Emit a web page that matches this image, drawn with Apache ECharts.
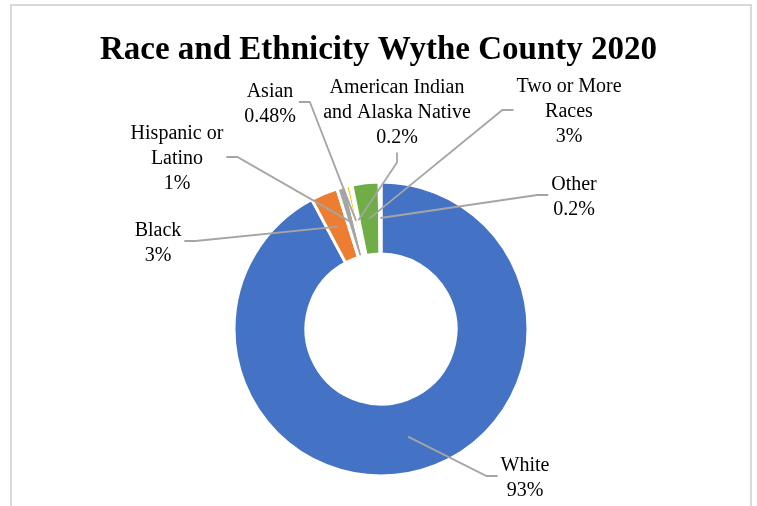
<!DOCTYPE html>
<html>
<head>
<meta charset="utf-8">
<script src="https://cdn.jsdelivr.net/npm/echarts@6/dist/echarts.min.js"></script>
<style>
  html, body { margin: 0; padding: 0; background: #fff; }
  #frame { position: absolute; left: 10px; top: 4px; width: 742px; height: 520px;
           border: 2px solid #d9d9d9; border-bottom: none; box-sizing: border-box; }
  #chart { position: absolute; left: 0; top: 0; width: 757px; height: 506px; }
</style>
</head>
<body>
<div id="frame"></div>
<div id="chart"></div>
<script>
// Population shares by group, Wythe County 2020
const categories = ['White', 'Black', 'Hispanic or\nLatino', 'Asian',
  'American Indian\nand Alaska Native', 'Two or More\nRaces', 'Other'];
const shares = [93, 3, 1, 0.48, 0.2, 3, 0.2];
const valueLabels = ['93%', '3%', '1%', '0.48%', '0.2%', '3%', '0.2%'];

const colors = ['#4472C4', '#ED7D31', '#A5A5A5', '#FFC000', '#5B9BD5', '#70AD47', '#264478'];

// Callout placement: label centre and the side the leader line attaches to
const labelSpots = [
  { at: [525, 478], side: 'l' },   // White
  { at: [158, 243], side: 'r' },   // Black
  { at: [177, 159], side: 'r' },   // Hispanic or Latino
  { at: [270, 104], side: 'r' },   // Asian
  { at: [397, 113], side: 'b' },   // American Indian and Alaska Native
  { at: [569, 112], side: 'l' },   // Two or More Races
  { at: [574, 197], side: 'l' }    // Other
];

const CENTER = [381, 329];
const R_IN = 75, R_OUT = 147;
const R_MID = (R_IN + R_OUT) / 2;

// Mid-angle of every slice (clockwise from 12 o'clock), derived from the shares
const total = shares.reduce((a, b) => a + b, 0);
const midAngles = [];
shares.reduce((cum, v) => { midAngles.push((cum + v / 2) / total * 2 * Math.PI); return cum + v; }, 0);

const pieData = categories.map((c, i) => ({ name: c, value: shares[i], itemStyle: { color: colors[i] } }));

const chart = echarts.init(document.getElementById('chart'));
chart.setOption({
  animation: false,
  title: {
    text: 'Race and Ethnicity Wythe County 2020',
    left: 'center',
    top: 29,
    textStyle: { fontFamily: 'Liberation Serif', fontWeight: 'bold', fontSize: 33, color: '#000' }
  },
  series: [
    {
      // the doughnut itself
      type: 'pie',
      center: CENTER,
      radius: [R_IN, R_OUT],
      startAngle: 90,
      clockwise: true,
      z: 2,
      itemStyle: { borderColor: '#fff', borderWidth: 3 },
      label: { show: false },
      labelLine: { show: false },
      data: pieData
    },
    {
      // transparent twin carrying the callouts, so leader lines sit on top of the ring
      type: 'pie',
      center: CENTER,
      radius: [R_IN, R_OUT],
      startAngle: 90,
      clockwise: true,
      z: 5,
      silent: true,
      avoidLabelOverlap: false,
      itemStyle: { color: 'rgba(0,0,0,0)', borderWidth: 0 },
      label: {
        show: true,
        position: 'outside',
        fontFamily: 'Liberation Serif',
        fontSize: 20,
        lineHeight: 25,
        color: '#000',
        align: 'center',
        formatter: p => p.name + '\n' + valueLabels[p.dataIndex]
      },
      labelLine: {
        show: true,
        lineStyle: { color: '#A5A5A5', width: 1.8 },
        length: 10,
        length2: 10
      },
      labelLayout: params => {
        const i = params.dataIndex;
        const spot = labelSpots[i];
        const [x, y] = spot.at;
        const w = params.labelRect.width, h = params.labelRect.height;
        const a = midAngles[i];
        const p0 = [CENTER[0] + R_MID * Math.sin(a), CENTER[1] - R_MID * Math.cos(a)];
        let pts;
        if (spot.side === 'b') {
          const end = [x, y + h / 2 + 2];
          pts = [p0, [x, end[1] + 10], end];
        } else {
          const dir = spot.side === 'r' ? 1 : -1;
          const end = [x + dir * (w / 2 + 3), y - 2];
          pts = [p0, [end[0] + dir * 11, end[1]], end];
        }
        return { x, y, align: 'center', verticalAlign: 'middle', labelLinePoints: pts };
      },
      data: categories.map((c, i) => ({ name: c, value: shares[i] }))
    }
  ]
});
</script>
</body>
</html>
